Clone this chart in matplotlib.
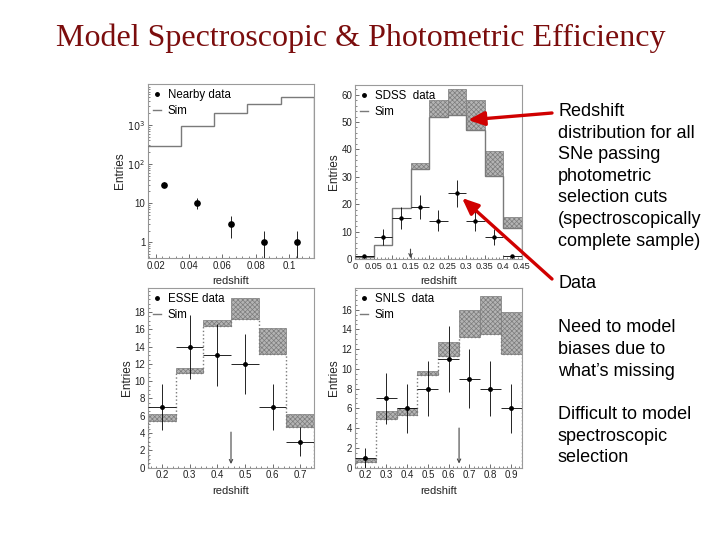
import matplotlib
matplotlib.use("Agg")
import matplotlib.pyplot as plt
import numpy as np
from matplotlib.lines import Line2D
from matplotlib.ticker import AutoMinorLocator, FixedLocator, FixedFormatter

# ---- data ----
# Nearby (log y)
nearby_edges = [0.015, 0.035, 0.055, 0.075, 0.095, 0.115]
nearby_sim = [295, 940, 2050, 3400, 5250]
nearby_x = [0.025, 0.045, 0.065, 0.085, 0.105]
nearby_y = [30, 10, 3, 1, 1]
nearby_err_lo = [3.5, 3.0, 1.7, 0.999, 0.999]
nearby_err_hi = [4.5, 3.2, 1.7, 1.0, 1.0]

# SDSS
sdss_edges = [0.0, 0.05, 0.1, 0.15, 0.2, 0.25, 0.3, 0.35, 0.4, 0.45]
sdss_sim_lo = [0.8, 5.0, 18.5, 33.0, 51.8, 52.5, 47.0, 30.4, 11.2]
sdss_sim_hi = [1.0, 5.2, 18.7, 35.0, 58.2, 62.2, 58.2, 39.4, 15.2]
sdss_x = [0.025, 0.075, 0.125, 0.175, 0.225, 0.275, 0.325, 0.375, 0.425]
sdss_y = [1, 8, 15, 19, 14, 24, 14, 8, 1]
sdss_err = [0.6, 2.8, 3.9, 4.4, 3.7, 4.9, 3.7, 2.8, 0.6]
sdss_cut = 0.15

# ESSE
esse_edges = [0.15, 0.25, 0.35, 0.45, 0.55, 0.65, 0.75]
esse_sim_lo = [5.4, 11.0, 16.4, 17.2, 13.2, 4.7]
esse_sim_hi = [6.2, 11.5, 17.1, 19.6, 16.2, 6.2]
esse_x = [0.2, 0.3, 0.4, 0.5, 0.6, 0.7]
esse_y = [7, 14, 13, 12, 7, 3]
esse_err = [2.7, 3.7, 3.6, 3.5, 2.7, 1.7]
esse_cut = 0.45

# SNLS
snls_edges = [0.15, 0.25, 0.35, 0.45, 0.55, 0.65, 0.75, 0.85, 0.95]
snls_sim_lo = [0.6, 4.9, 5.3, 9.4, 11.3, 13.2, 13.5, 11.5]
snls_sim_hi = [0.9, 5.7, 6.0, 9.8, 12.7, 16.0, 17.4, 15.8]
snls_x = [0.2, 0.3, 0.4, 0.5, 0.6, 0.7, 0.8, 0.9]
snls_y = [1, 7, 6, 8, 11, 9, 8, 6]
snls_err = [1.0, 2.6, 2.5, 2.8, 3.3, 3.0, 2.8, 2.5]
snls_cut = 0.65

title = "Model Spectroscopic & Photometric Efficiency"
text_blocks = [
    (["Redshift", "distribution for all", "SNe passing", "photometric",
      "selection cuts", "(spectroscopically", "complete sample)"], 111.5),
    (["Data"], 283.5),
    (["Need to model", "biases due to", "what\u2019s missing"], 328),
    (["Difficult to model", "spectroscopic", "selection"], 414.5),
]

SIM_C = "#7a7a7a"
plt.rcParams["hatch.linewidth"] = 0.5
plt.rcParams["font.family"] = ["Liberation Sans", "DejaVu Sans"]

fig = plt.figure(figsize=(7.2, 5.4), dpi=100)
W, H = 720, 540


def px_axes(l, t, r, b):
    return fig.add_axes([l / W, 1 - b / H, (r - l) / W, (b - t) / H])


def style(ax):
    for s in ax.spines.values():
        s.set_color("#9a9a9a")
        s.set_linewidth(0.8)
    ax.tick_params(which="both", direction="in", colors="#555555",
                   labelcolor="#222222", labelsize=7, pad=2)
    ax.tick_params(which="major", length=3, width=0.6)
    ax.tick_params(which="minor", length=1.6, width=0.5)
    ax.set_ylabel("Entries", fontsize=8.5, labelpad=1, color="#222222")
    ax.set_xlabel("redshift", fontsize=8, labelpad=4, color="#222222")


def legend(ax, name):
    h = [Line2D([], [], ls="none", marker="o", ms=2.5, color="black"),
         Line2D([], [], color=SIM_C, lw=1.0)]
    ax.legend(h, [name, "Sim"], loc="upper left", frameon=False, fontsize=8.3,
              handlelength=0.7, handletextpad=0.6, labelspacing=0.4,
              borderaxespad=0.1, borderpad=0.3)


def bands(ax, edges, lo, hi, ls):
    edges = np.asarray(edges)
    lo = np.asarray(lo)
    hi = np.asarray(hi)
    ax.bar(edges[:-1], hi - lo, width=np.diff(edges), bottom=lo, align="edge",
           facecolor="#b4b4b4", edgecolor="#7c7c7c", hatch="xxxxxxx", lw=0.5,
           zorder=2)
    ax.stairs(lo, edges, color=SIM_C, lw=1.0, ls=ls, zorder=3)


def data(ax, x, y, err, xerr, ms=2.5):
    ax.errorbar(x, y, yerr=err, xerr=xerr, fmt="o", ms=ms, color="black",
                elinewidth=0.6, capsize=0, zorder=4)


def cut(ax, x, y0, y1):
    ax.annotate("", xy=(x, y1), xytext=(x, y0),
                arrowprops=dict(arrowstyle="->", color="#444444", lw=0.8,
                                shrinkA=0, shrinkB=0, mutation_scale=6))


# Nearby
ax1 = px_axes(148, 84, 314, 258)
ax1.set_yscale("log")
ax1.stairs(nearby_sim, nearby_edges, color=SIM_C, lw=1.0, zorder=3)
ax1.errorbar(nearby_x, nearby_y, yerr=[nearby_err_lo, nearby_err_hi],
             fmt="o", ms=3.8, color="black", elinewidth=0.6, capsize=0, zorder=4)
ax1.set_xlim(0.0155, 0.115)
ax1.set_ylim(0.4, 1.1e4)
ax1.xaxis.set_major_locator(FixedLocator([0.02, 0.04, 0.06, 0.08, 0.1]))
ax1.xaxis.set_major_formatter(FixedFormatter(["0.02", "0.04", "0.06", "0.08", "0.1"]))
ax1.xaxis.set_minor_locator(AutoMinorLocator(5))
ax1.yaxis.set_major_locator(FixedLocator([1, 10, 100, 1000]))
ax1.yaxis.set_major_formatter(FixedFormatter(["1", "10", "$10^2$", "$10^3$"]))
style(ax1)
legend(ax1, "Nearby data")

# SDSS
ax2 = px_axes(355, 85, 521.5, 259)
bands(ax2, sdss_edges, sdss_sim_lo, sdss_sim_hi, "-")
data(ax2, sdss_x, sdss_y, sdss_err, 0.025, ms=2.2)
cut(ax2, sdss_cut, 3.6, 0.3)
ax2.set_xlim(0, 0.45)
ax2.set_ylim(0, 63.5)
ax2.set_xticks(np.arange(0, 0.451, 0.05))
ax2.set_xticklabels(["0", "0.05", "0.1", "0.15", "0.2", "0.25", "0.3", "0.35", "0.4", "0.45"])
ax2.set_yticks(np.arange(0, 61, 10))
ax2.xaxis.set_minor_locator(AutoMinorLocator(5))
ax2.yaxis.set_minor_locator(AutoMinorLocator(5))
style(ax2)
ax2.tick_params(axis="x", labelsize=6.6)
legend(ax2, "SDSS  data")

# ESSE
ax3 = px_axes(148, 288, 314, 467.5)
bands(ax3, esse_edges, esse_sim_lo, esse_sim_hi, ":")
data(ax3, esse_x, esse_y, esse_err, 0.05)
cut(ax3, esse_cut, 4.1, 0.4)
ax3.set_xlim(0.15, 0.75)
ax3.set_ylim(0, 20.8)
ax3.set_xticks(esse_x)
ax3.set_xticklabels(["0.2", "0.3", "0.4", "0.5", "0.6", "0.7"])
ax3.set_yticks(np.arange(0, 19, 2))
ax3.xaxis.set_minor_locator(AutoMinorLocator(5))
ax3.yaxis.set_minor_locator(AutoMinorLocator(4))
style(ax3)
legend(ax3, "ESSE data")

# SNLS
ax4 = px_axes(355, 288, 521.5, 467.5)
bands(ax4, snls_edges, snls_sim_lo, snls_sim_hi, ":")
data(ax4, snls_x, snls_y, snls_err, 0.05)
cut(ax4, snls_cut, 4.0, 0.4)
ax4.set_xlim(0.15, 0.95)
ax4.set_ylim(0, 18.2)
ax4.set_xticks(snls_x)
ax4.set_xticklabels(["0.2", "0.3", "0.4", "0.5", "0.6", "0.7", "0.8", "0.9"])
ax4.set_yticks(np.arange(0, 17, 2))
ax4.xaxis.set_minor_locator(AutoMinorLocator(5))
ax4.yaxis.set_minor_locator(AutoMinorLocator(4))
style(ax4)
legend(ax4, "SNLS  data")

# slide title and notes
fig.text(361 / W, 1 - 38 / H, title, ha="center", va="center",
         family=["Liberation Serif", "DejaVu Serif"], fontsize=23, color="#7b0d0d")

for lines, y0 in text_blocks:
    for i, line in enumerate(lines):
        fig.text(558 / W, 1 - (y0 + i * 21.6) / H, line, ha="left", va="center",
                 fontsize=13, color="black")

# red pointer arrows (figure pixels)
for tail, head in [((552, 427), (468, 420)), ((552, 261), (462, 342))]:
    fig.add_artist(matplotlib.patches.FancyArrowPatch(
        (tail[0] / W, tail[1] / H), (head[0] / W, head[1] / H),
        transform=fig.transFigure, arrowstyle="-|>,head_length=0.7,head_width=0.3",
        mutation_scale=14, color="#d00000", lw=2.4, shrinkA=0, shrinkB=0))

plt.savefig("out.png", dpi=100)
